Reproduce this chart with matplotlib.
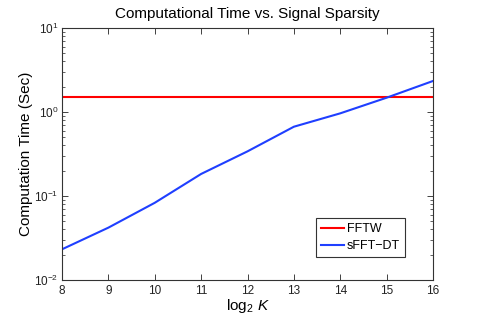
import numpy as np
import matplotlib
matplotlib.use("Agg")
import matplotlib.pyplot as plt

plt.rcParams['font.family'] = ['Liberation Sans', 'DejaVu Sans']
plt.rcParams['mathtext.fontset'] = 'custom'
plt.rcParams['mathtext.rm'] = 'Liberation Sans'
plt.rcParams['mathtext.it'] = 'Liberation Sans:italic'

# data
log2_k = [8, 9, 10, 11, 12, 13, 14, 15, 16]
fftw_time = [1.51] * len(log2_k)
sfft_dt_time = [0.0232, 0.042, 0.083, 0.183, 0.34, 0.668, 0.964, 1.48, 2.34]

fig = plt.figure(figsize=(4.78, 3.21), dpi=100)
ax = fig.add_axes([62 / 478, 1 - 280 / 321, 371 / 478, 252 / 321])

ax.plot(log2_k, fftw_time, color='#ff0000', lw=1.5, label='FFTW')
ax.plot(log2_k, sfft_dt_time, color='#1f3fff', lw=1.5, label='sFFT\u2212DT')

ax.set_yscale('log')
ax.set_xlim(8, 16)
ax.set_ylim(1e-2, 1e1)
ax.set_xticks(range(8, 17))

ax.tick_params(which='both', direction='in', top=True, right=True, labelsize=8.5, colors='#222222')
ax.tick_params(axis='y', pad=2.5)
ax.tick_params(which='major', length=4, width=0.6)
ax.tick_params(which='minor', length=2, width=0.5)
for s in ax.spines.values():
    s.set_linewidth(0.8)
    s.set_color('#333333')

ax.set_title('Computational Time vs. Signal Sparsity', fontsize=11, pad=7)
ax.set_xlabel(r'log$_2$ $K$', fontsize=11, labelpad=0)
ax.set_ylabel('Computation Time (Sec)', fontsize=11, labelpad=1)

leg = ax.legend(loc='lower right', bbox_to_anchor=(0.9245, 0.091), fontsize=9,
                fancybox=False, framealpha=1, edgecolor='#333333', borderaxespad=0,
                handlelength=1.9, handletextpad=0.2, borderpad=0.4, labelspacing=0.4)
leg.get_frame().set_linewidth(0.8)

fig.savefig('out.png', dpi=100)
